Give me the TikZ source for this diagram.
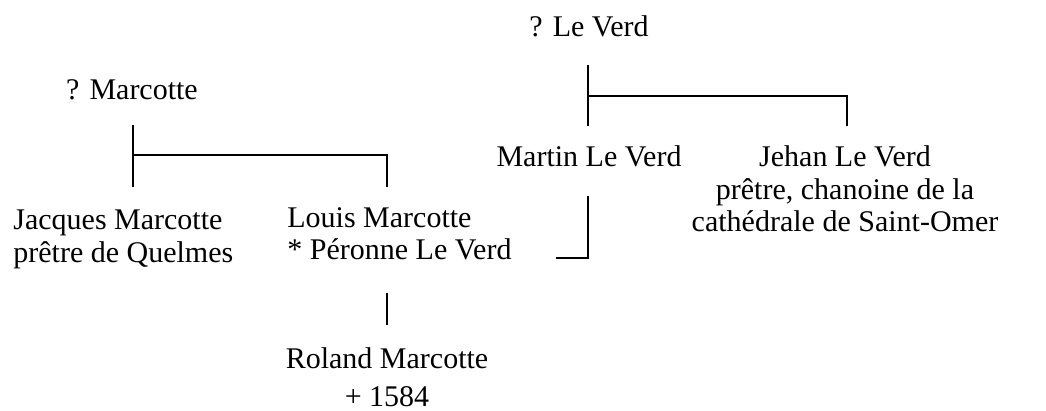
\documentclass[tikz,border=0pt]{standalone}
\usepackage{fontspec}
\setmainfont{Liberation Serif}
\tikzset{
	person/.style={inner sep=0pt, font=\fontsize{15}{16.25}\selectfont},
	link/.style={line width=1pt}
}
\begin{document}
\begin{tikzpicture}[x=0.5pt,y=-0.5pt]
	\useasboundingbox (0,0) rectangle (1046,411);
	
	%parents
	\node[person, anchor=base] (qm) at (132,100){? Marcotte};
	\node[person, anchor=base] (qv) at (589,37){? Le Verd};
	
	%children
	\node[person, anchor=base west, align=left] (jm) at (13,262.5){Jacques Marcotte\\prêtre de Quelmes};
	\node[person, anchor=base west, align=left] (lm) at (287,260){Louis Marcotte\\* Péronne Le Verd};
	\node[person, anchor=base] (mv) at (589,167){Martin Le Verd};
	\node[person, anchor=base, align=center] (jv) at (845,232){Jehan Le Verd\\prêtre, chanoine de la\\cathédrale de Saint-Omer};
	
	%grandchild
	\node[person, anchor=base, align=center] (rm) at (387,407){Roland Marcotte\\[3pt]+ 1584};
	
	%line ends
	\coordinate (qm0) at (133,125);
	\coordinate (qmj) at (133,155);
	\coordinate (jm0) at (133,187);
	\coordinate (lm0) at (387,187);
	\coordinate (qv0) at (588,65);
	\coordinate (qvj) at (588,96);
	\coordinate (mv0) at (588,126);
	\coordinate (jv0) at (847,126);
	\coordinate (mv1) at (588,196);
	\coordinate (lm1) at (556,258);
	\coordinate (lm2) at (387,293);
	\coordinate (rm0) at (387,325);
	
	\draw[link] (qm0) -- (jm0);
	\draw[link] (qmj) -| (lm0);
	
	\draw[link] (qv0) -- (mv0);
	\draw[link] (qvj) -| (jv0);
	
	\draw[link] (mv1) |- (lm1);
	
	\draw[link] (lm2) -- (rm0);
	
\end{tikzpicture}
\end{document}
